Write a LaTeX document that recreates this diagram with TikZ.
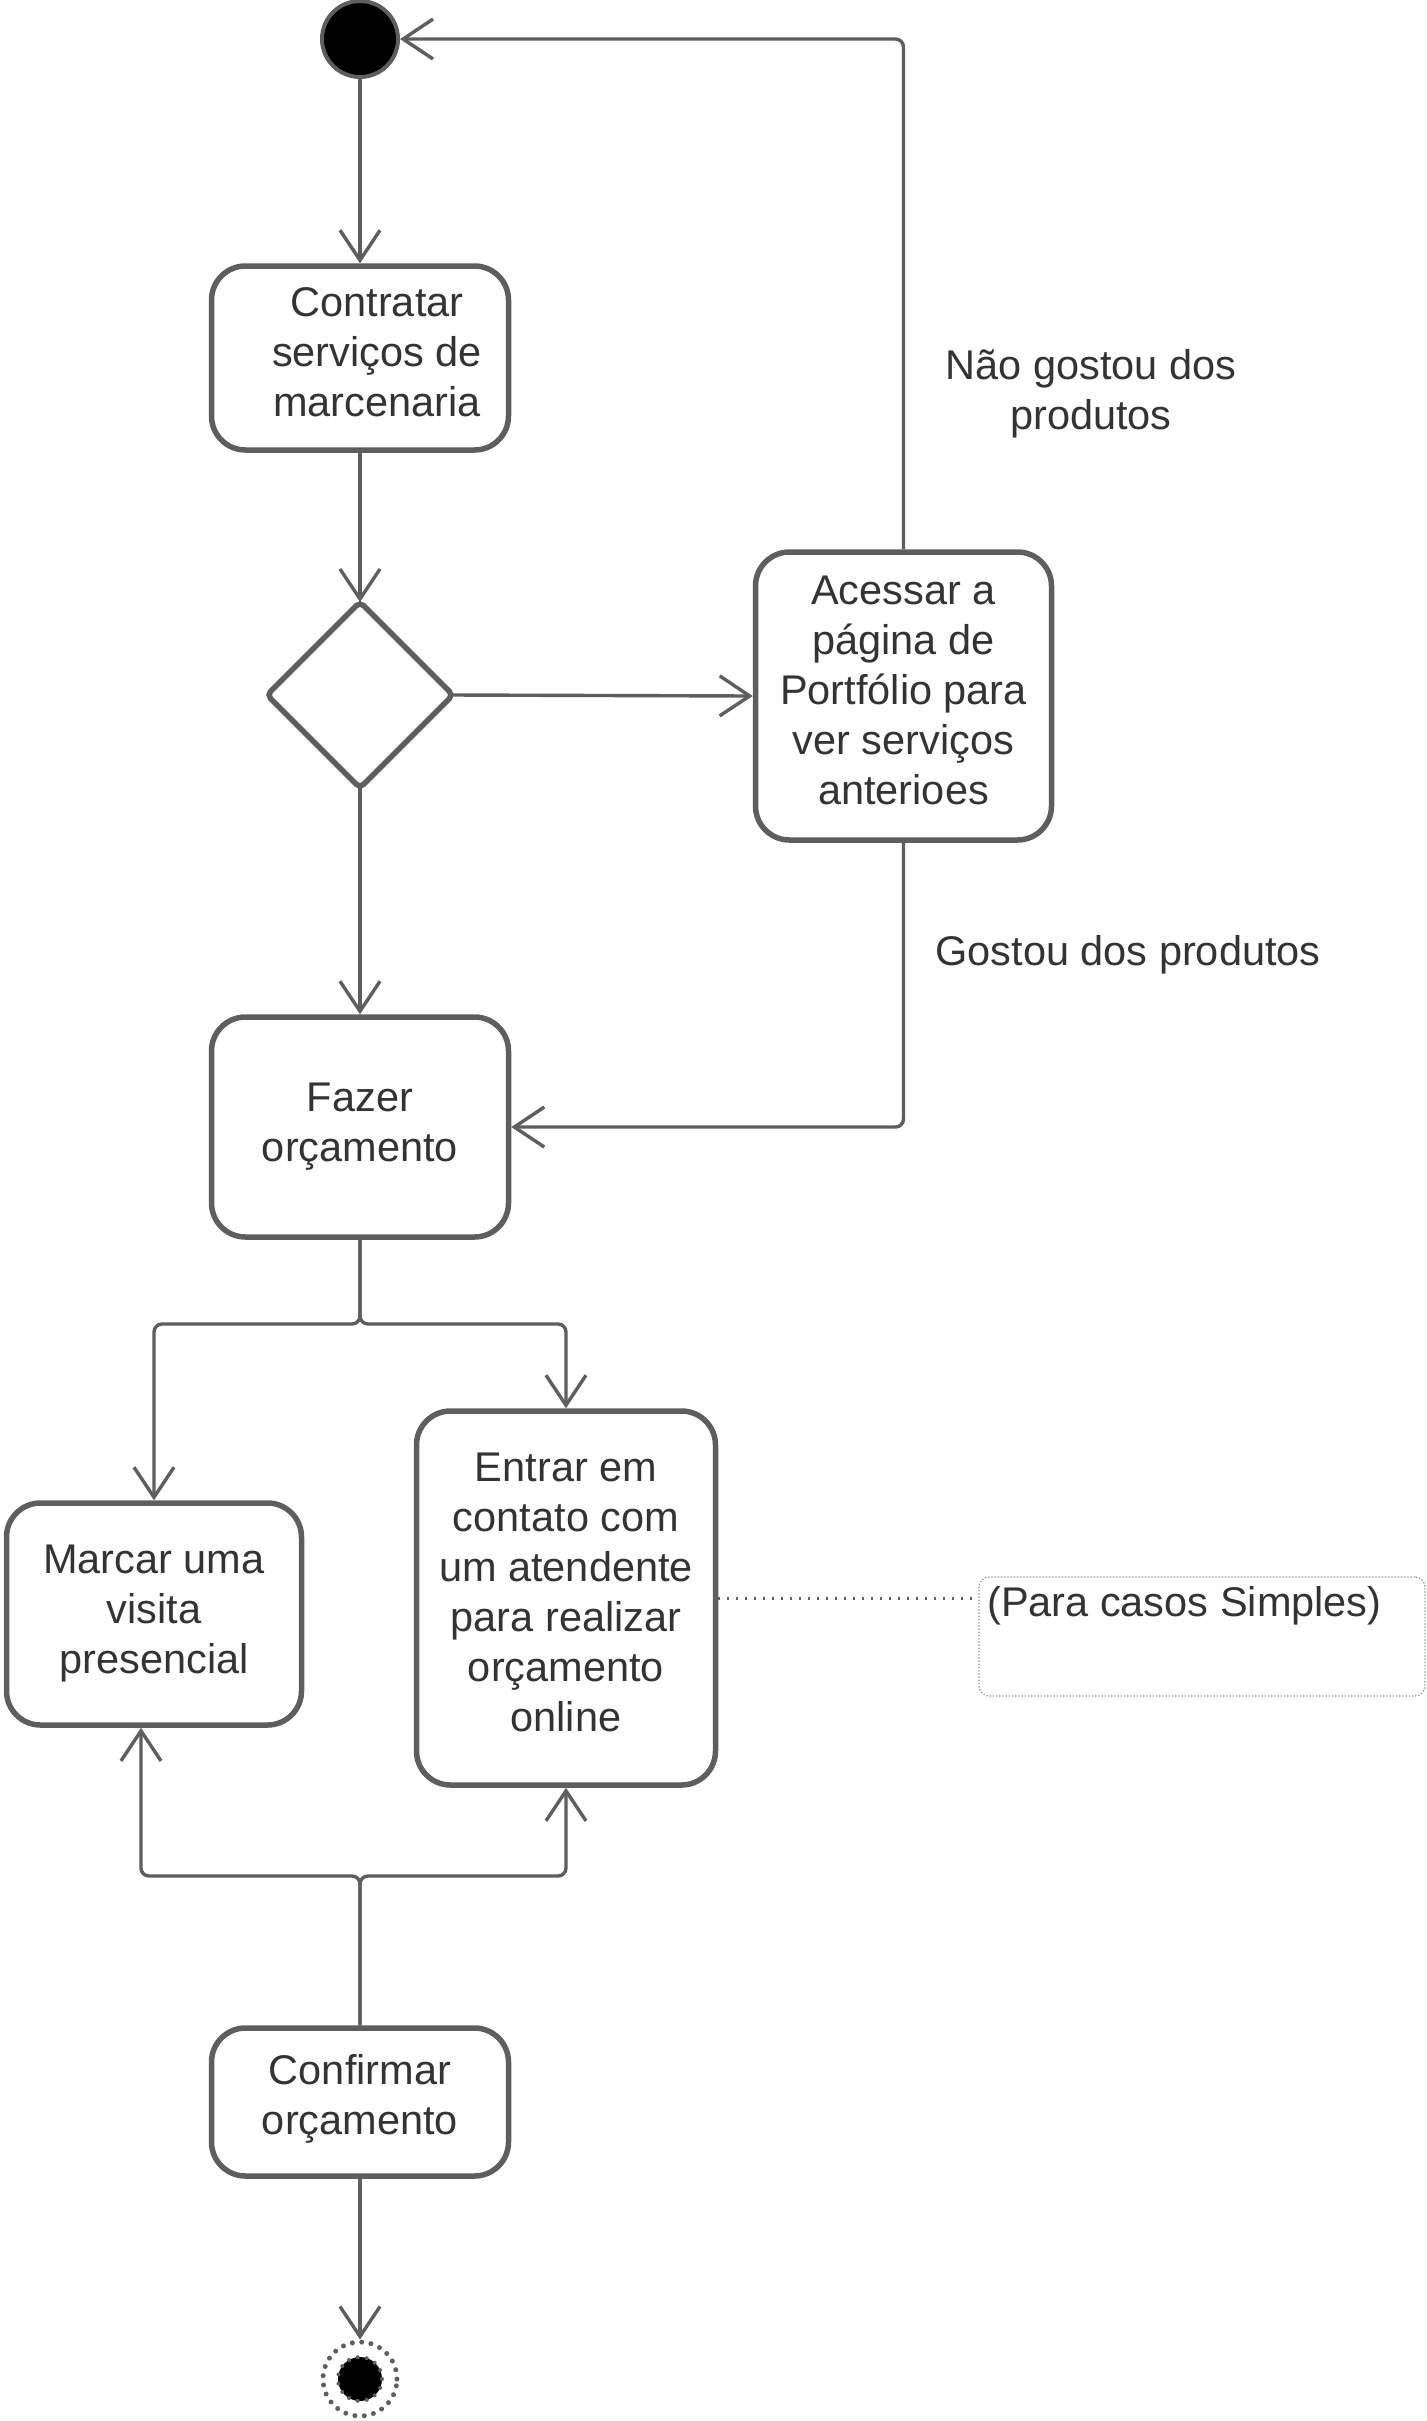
\documentclass[tikz,border=0pt]{standalone}
\usepackage{fontspec}
\setmainfont{Liberation Sans}
\usetikzlibrary{arrows.meta,shapes.geometric}
\definecolor{lc}{HTML}{5E5E5E}
\definecolor{tc}{HTML}{333333}
\begin{document}
\begin{tikzpicture}[x=1pt,y=-1pt,
  every node/.style={font=\fontsize{41.5}{50}\selectfont, text=tc},
  actbox/.style={draw=lc, line width=5.5pt, rounded corners=34pt, rectangle, inner sep=0pt, align=center},
  txt/.style={align=center, inner sep=0pt},
  conn/.style={draw=lc, line width=3.4pt, rounded corners=8pt, -{Straight Barb[length=30pt,width=40pt,line width=3.4pt]}}
]
\useasboundingbox (0,0) rectangle (1427,2421);

% start
\node[circle, draw=lc, fill=black, line width=4pt, minimum size=76pt, inner sep=0pt] (start) at (360,39) {};

% activities
\node[actbox, minimum width=297pt, minimum height=184pt] (contr) at (360,358) {};
\node[txt] (contrt) at (377,352) {Contratar\\serviços de\\marcenaria};

\node[diamond, draw=lc, line width=5.5pt, rounded corners=5pt, minimum width=186pt, minimum height=186pt, inner sep=0pt, outer sep=0pt] (dia) at (360,695) {};

\node[actbox, minimum width=296pt, minimum height=288pt] (acc) at (903.5,696) {};
\node[txt] (acct) at (903.5,690) {Acessar a\\página de\\Portfólio para\\ver serviços\\anterioes};

\node[actbox, minimum width=297pt, minimum height=220pt] (fazer) at (360,1127) {Fazer\\orçamento};

\node[actbox, minimum width=295pt, minimum height=222pt] (marcar) at (154,1614) {Marcar uma\\visita\\presencial};

\node[actbox, minimum width=299pt, minimum height=374pt] (entrar) at (566,1598) {};
\node[txt] (entrart) at (566,1592) {Entrar em\\contato com\\um atendente\\para realizar\\orçamento\\online};

\node[actbox, minimum width=297pt, minimum height=148pt] (conf) at (360,2102) {};
\node[txt] (conft) at (360,2099) {Confirmar\\orçamento};

% note
\node[draw=lc!75, line width=1.2pt, dotted, rounded corners=10pt, rectangle, minimum width=446pt, minimum height=119pt, inner sep=0pt] (note) at (1202,1636.5) {};
\node[txt, anchor=west] (notet) at (987,1606) {(Para casos Simples)};

% end
\node[circle, draw=lc, line width=5pt, dash pattern=on 0pt off 9.4pt, line cap=round, minimum size=74pt, inner sep=0pt] (endc) at (360,2379) {};
\node[circle, draw=lc, fill=black, line width=4pt, dash pattern=on 0pt off 9.2pt, line cap=round, minimum size=44pt, inner sep=0pt] (endi) at (360,2379) {};

% labels
\node[txt] (lno) at (1091,394) {Não gostou dos\\produtos};
\node[txt] (lyes) at (1128,955) {Gostou dos produtos};

% connectors
\draw[conn] (start) -- (contr.north);
\draw[conn] (contr.south) -- (dia.north);
\draw[conn] (dia.east) -- (acc.west);
\draw[conn] (dia.south) -- (fazer.north);
\draw[conn] (acc.north) |- (start.east);
\draw[conn] (acc.south) |- (fazer.east);

\coordinate (s1) at (360,1324);
\draw[conn] (fazer.south) -- (s1) -| (marcar.north);
\draw[conn] (fazer.south) -- (s1) -| (entrar.north);

\coordinate (s2) at (360,1876);
\draw[conn] (conf.north) -- (s2) -| ([xshift=-13pt]marcar.south);
\draw[conn] (conf.north) -- (s2) -| (entrar.south);

\draw[conn] (conf.south) -- (endc.north);

\draw[draw=lc, line width=3pt, dash pattern=on 1.5pt off 7.5pt] (entrar.east) -- (note.west |- entrar.east);
\end{tikzpicture}
\end{document}
